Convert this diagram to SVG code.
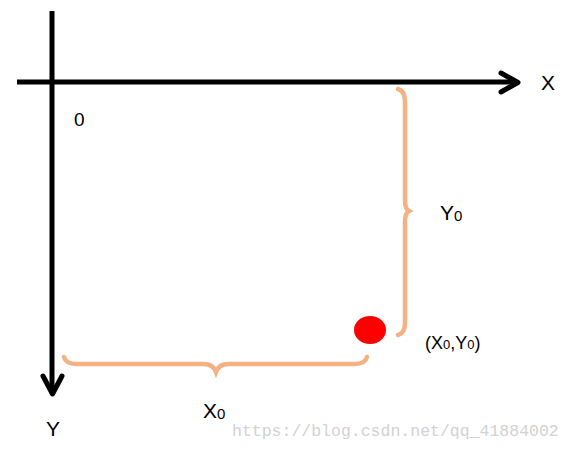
<svg xmlns="http://www.w3.org/2000/svg" width="571" height="451" viewBox="0 0 571 451">
<style>
.axis{stroke:#000;stroke-width:5;fill:none}
.head{stroke:#000;stroke-width:5;fill:none;stroke-linecap:round;stroke-linejoin:round}
.brace{stroke:#F4B183;stroke-width:4.5;fill:none;stroke-linecap:round}
.t{font-family:"Liberation Sans",Arial,sans-serif;fill:#000}
.wm{font-family:"Liberation Mono","DejaVu Sans Mono",monospace;fill:#d2d2d2;font-size:16.5px}
</style>
<rect width="571" height="451" fill="#fff"/>
<g id="connectors">
  <g id="x-axis">
    <line class="axis" x1="17" y1="82" x2="517" y2="82"/>
    <polyline class="head" points="501,73 518,82.5 501,92"/>
  </g>
  <g id="y-axis">
    <line class="axis" x1="52" y1="11" x2="52" y2="393"/>
    <polyline class="head" points="43,376 52.5,394 62,376"/>
  </g>
  <g id="brace-y">
    <path class="brace" d="M398,89 Q405,91 405,102 L405,200 Q405,209 409,211 Q405,213 405,222 L405,323 Q405,333 398,335"/>
  </g>
  <g id="brace-x">
    <path class="brace" d="M64,357 Q66,364 76,364 L204,364 Q213,364 216,372 Q219,364 228,364 L355,364 Q365,364 367,357"/>
  </g>
</g>
<g id="point">
  <ellipse cx="370" cy="330" rx="16" ry="14" fill="#ff0000"/>
</g>
<g id="labels">
  <text class="t" x="541" y="90" font-size="21">X</text>
  <text class="t" x="46" y="436" font-size="21">Y</text>
  <text class="t" x="74" y="126" font-size="19">0</text>
  <text class="t" x="440" y="220" font-size="21">Y<tspan font-size="15" dy="1">0</tspan></text>
  <text class="t" x="203" y="418" font-size="21">X<tspan font-size="15" dy="1">0</tspan></text>
  <text class="t" x="425" y="349" font-size="18">(X<tspan font-size="13">0</tspan>,Y<tspan font-size="13">0</tspan>)</text>
  <text class="wm" x="232" y="436">https://blog.csdn.net/qq_41884002</text>
</g>
</svg>
